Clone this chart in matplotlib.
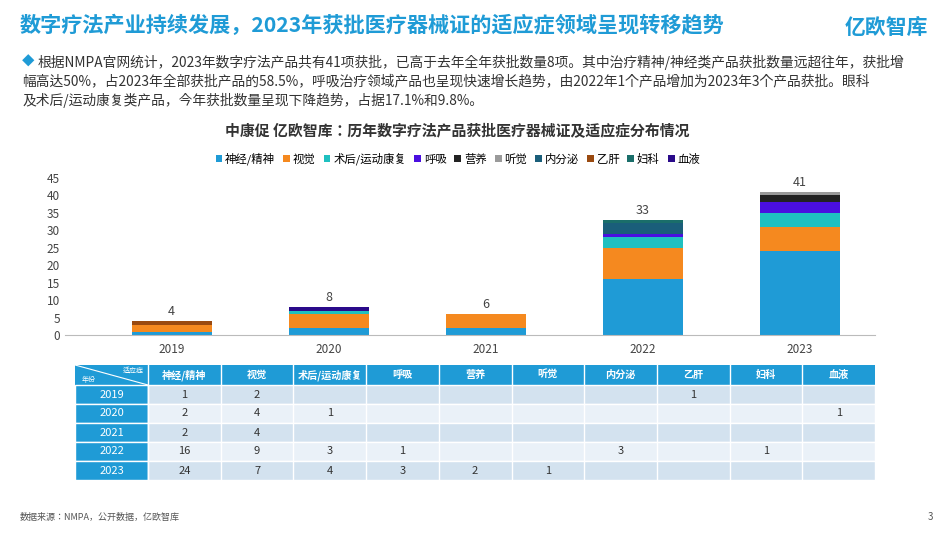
import numpy as np
import matplotlib.pyplot as plt
from matplotlib.patches import Rectangle

plt.rcParams['font.family'] = ['Noto Sans CJK JP']

years = ['2019', '2020', '2021', '2022', '2023']
categories = ['神经/精神', '视觉', '术后/运动康复', '呼吸', '营养', '听觉', '内分泌', '乙肝', '妇科', '血液']
values = {
    '神经/精神': [1, 2, 2, 16, 24],
    '视觉': [2, 4, 4, 9, 7],
    '术后/运动康复': [0, 1, 0, 3, 4],
    '呼吸': [0, 0, 0, 1, 3],
    '营养': [0, 0, 0, 0, 2],
    '听觉': [0, 0, 0, 0, 1],
    '内分泌': [0, 0, 0, 3, 0],
    '乙肝': [1, 0, 0, 0, 0],
    '妇科': [0, 0, 0, 1, 0],
    '血液': [0, 1, 0, 0, 0],
}
colors = ['#1F9BD6', '#F5891F', '#1FC0C0', '#4A0FE0', '#222222', '#9A9A9A',
          '#1A5E7A', '#9A4A10', '#1A6E6A', '#2A0A8A']
blue = '#1F9BD6'

fig = plt.figure(figsize=(9.5, 5.35), dpi=100)
W, H = 950, 535

fig.text(20 / W, 1 - 25 / H, '数字疗法产业持续发展，2023年获批医疗器械证的适应症领域呈现转移趋势',
         color=blue, fontsize=15.2, fontweight='bold', va='center')
fig.text(845 / W, 1 - 27 / H, '亿欧智库', color=blue, fontsize=15, fontweight='bold', va='center')
fig.text(22 / W, 1 - 62 / H, '◆', color=blue, fontsize=9, va='center')
fig.text(38 / W, 1 - 62 / H,
         '根据NMPA官网统计，2023年数字疗法产品共有41项获批，已高于去年全年获批数量8项。其中治疗精神/神经类产品获批数量远超往年，获批增',
         fontsize=9.9, color='#333333', va='center')
fig.text(22 / W, 1 - 81 / H,
         '幅高达50%，占2023年全部获批产品的58.5%，呼吸治疗领域产品也呈现快速增长趋势，由2022年1个产品增加为2023年3个产品获批。眼科',
         fontsize=9.9, color='#333333', va='center')
fig.text(22 / W, 1 - 100 / H, '及术后/运动康复类产品，今年获批数量呈现下降趋势，占据17.1%和9.8%。',
         fontsize=9.9, color='#333333', va='center')
fig.text(457 / W, 1 - 130 / H, '中康促 亿欧智库：历年数字疗法产品获批医疗器械证及适应症分布情况',
         fontsize=10.7, fontweight='bold', color='#333333', ha='center', va='center')
fig.text(20 / W, 1 - 517 / H, '数据来源：NMPA，公开数据，亿欧智库', fontsize=6.5, color='#555555', va='center')
fig.text(928 / W, 1 - 517 / H, '3', fontsize=7, color='#555555', va='center')

# bar chart
ax = fig.add_axes([65 / W, 200 / H, 810 / W, 157 / H])
x = np.arange(len(years))
bottom = np.zeros(len(years))
for cat, c in zip(categories, colors):
    v = np.array(values[cat], dtype=float)
    ax.bar(x, v, 0.51, bottom=bottom, color=c, label=cat)
    bottom += v
for xi, t in zip(x, bottom):
    ax.text(xi, t + 0.8, f'{int(t)}', ha='center', va='bottom', fontsize=9, color='#444444')
ax.set_xlim(-0.68, 4.48)
ax.set_ylim(0, 45)
ax.set_yticks(range(0, 46, 5))
ax.set_xticks(x)
ax.set_xticklabels(years)
ax.tick_params(axis='both', length=0, labelsize=8.5, colors='#444444')
ax.tick_params(axis='x', pad=6)
for s in ['top', 'right', 'left']:
    ax.spines[s].set_visible(False)
ax.spines['bottom'].set_color('#BBBBBB')
ax.legend(loc='lower center', bbox_to_anchor=(0.485, 1.015), ncol=10, frameon=False,
          fontsize=8.2, handlelength=0.6, handleheight=0.6, handletextpad=0.25, columnspacing=0.7)

# table
tx = fig.add_axes([75 / W, 55 / H, 800 / W, 115 / H])
tx.set_xlim(0, 800)
tx.set_ylim(115, 0)
tx.axis('off')
colw = (800 - 73) / len(categories)
rowh = [20] + [19] * len(years)
ys = np.concatenate([[0], np.cumsum(rowh)])
tx.add_patch(Rectangle((0, 0), 800, 20, color=blue))
tx.plot([0, 73], [0, 20], color='white', lw=0.8)
tx.text(58, 6, '适应症', color='white', fontsize=5, ha='center', va='center')
tx.text(14, 15, '年份', color='white', fontsize=5, ha='center', va='center')
for j, cat in enumerate(categories):
    cx = 73 + colw * j
    tx.text(cx + colw / 2, 10, cat, color='white', fontsize=7.3, fontweight='bold',
            ha='center', va='center')
    if j > 0:
        tx.plot([cx, cx], [0, 115], color='white', lw=1)
for i, yr in enumerate(years):
    y0 = ys[i + 1]
    h = rowh[i + 1]
    tx.add_patch(Rectangle((0, y0), 73, h, color=blue, ec='white', lw=1))
    tx.add_patch(Rectangle((73, y0), 727, h, color='#D3E2EF' if i % 2 == 0 else '#EAF1F8',
                           ec='white', lw=1))
    tx.text(36.5, y0 + h / 2, yr, color='white', fontsize=8, ha='center', va='center')
    for j, cat in enumerate(categories):
        v = values[cat][i]
        if v:
            tx.text(73 + colw * j + colw / 2, y0 + h / 2, str(v), fontsize=8,
                    color='#333333', ha='center', va='center')
tx.plot([73, 73], [0, 115], color='white', lw=1)

fig.savefig('out.png', dpi=100)
